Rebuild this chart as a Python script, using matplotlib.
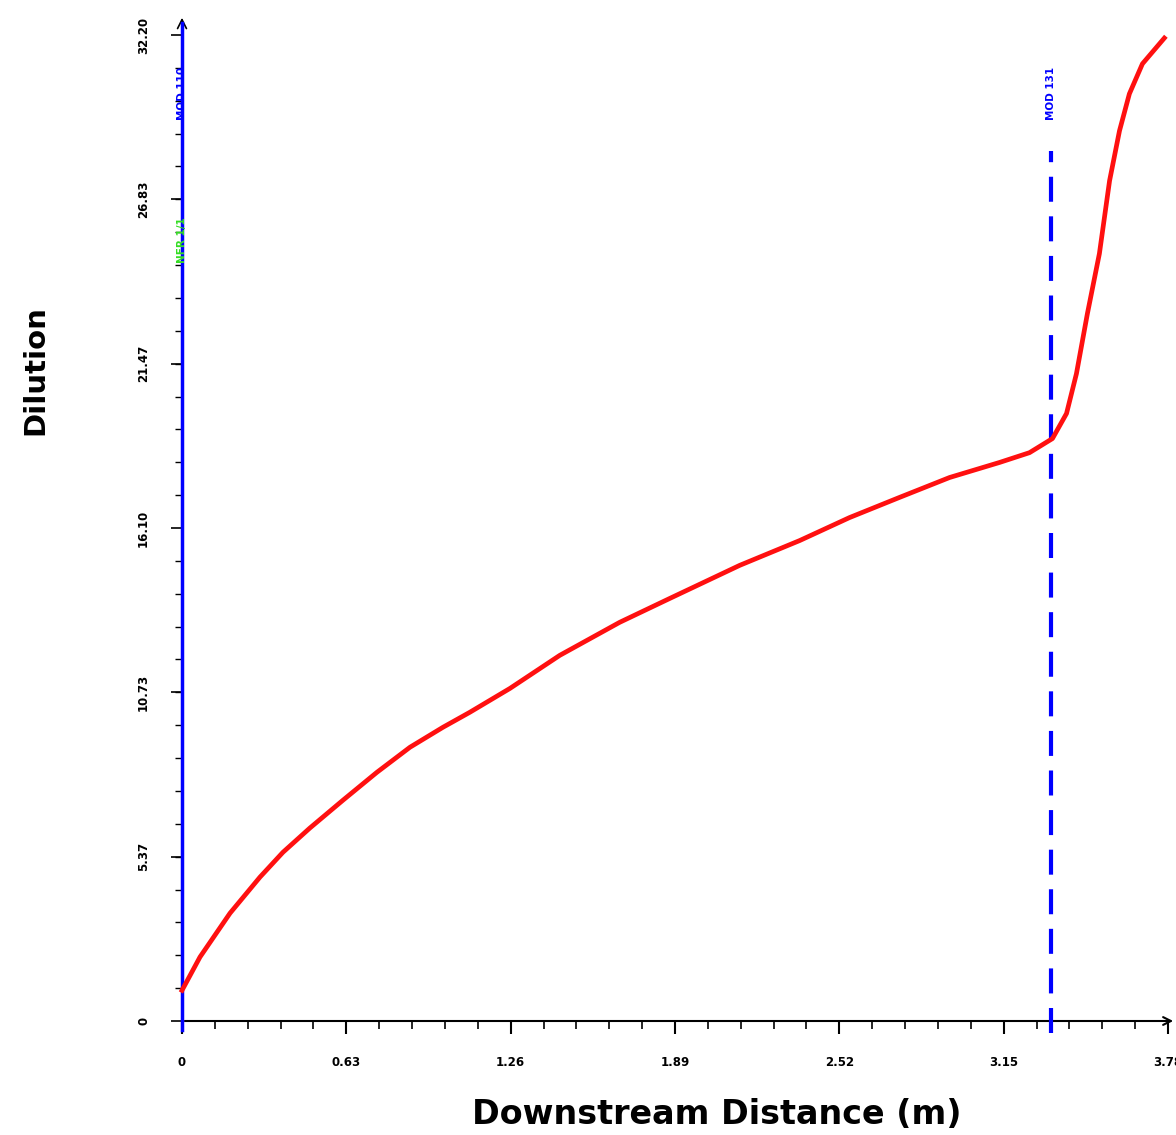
"""Dilution vs downstream distance profile with MOD markers."""
import numpy as np
import matplotlib
matplotlib.use("Agg")
import matplotlib.pyplot as plt
from matplotlib.ticker import MultipleLocator, FixedLocator

# Dilution curve
distance = [0.0, 0.069, 0.184, 0.299, 0.387, 0.490, 0.617, 0.747, 0.874, 1.000,
            1.103, 1.257, 1.448, 1.678, 1.870, 2.138, 2.368, 2.559, 2.751, 2.943,
            3.134, 3.249, 3.337, 3.391, 3.429, 3.471, 3.517, 3.556, 3.594, 3.632,
            3.682, 3.766]
dilution = [1.0, 2.09, 3.52, 4.70, 5.51, 6.30, 7.21, 8.12, 8.94, 9.59,
            10.08, 10.86, 11.94, 13.02, 13.80, 14.88, 15.69, 16.44, 17.10, 17.75,
            18.24, 18.56, 19.02, 19.84, 21.14, 23.10, 25.06, 27.44, 29.07, 30.28,
            31.26, 32.10]

x_ticks = [0, 0.63, 1.26, 1.89, 2.52, 3.15, 3.78]
x_tick_labels = ["0", "0.63", "1.26", "1.89", "2.52", "3.15", "3.78"]
y_ticks = [0, 5.37, 10.73, 16.10, 21.47, 26.83, 32.20]
y_tick_labels = ["0", "5.37", "10.73", "16.10", "21.47", "26.83", "32.20"]

mod_start = 0.0
mod_end = 3.333
mod_end_label = "MOD 131"
mod_start_label = "MOD 110"
nfr_label = "NFR 1/1"

W, H = 1176, 1135
fig = plt.figure(figsize=(W / 100, H / 100), dpi=100)
left, right, bottom, top = 182, 1168, 1021, 35
ax = fig.add_axes([left / W, (H - bottom) / H, (right - left) / W, (bottom - top) / H])
ax.set_xlim(0, 3.78)
ax.set_ylim(0, 32.20)

for s in ax.spines.values():
    s.set_visible(False)

# axis lines with arrow heads
ax.annotate("", xy=(1.0 + 8 / 986, 0), xytext=(0, 0), xycoords="axes fraction",
            arrowprops=dict(arrowstyle="->", color="black", lw=1.5, mutation_scale=14),
            annotation_clip=False)
ax.annotate("", xy=(0, 1.0 + 20 / 986), xytext=(0, 0), xycoords="axes fraction",
            arrowprops=dict(arrowstyle="->", color="black", lw=1.2, mutation_scale=16),
            annotation_clip=False)

# MOD markers
ax.plot([mod_start, mod_start], [-0.3, 32.6], color="#0000ff", lw=2.5, clip_on=False, zorder=3)
ax.plot([mod_end, mod_end], [-0.4, 28.4], color="#0000ff", lw=3,
        dashes=(6, 3.5), clip_on=False, zorder=3)
ax.text(mod_end, 30.3, mod_end_label, rotation=90, color="#0000ff", fontsize=7.5,
        fontweight="bold", ha="center", va="center")
ax.text(mod_start, 30.3, mod_start_label, rotation=90, color="#0000ff", fontsize=7.5,
        fontweight="bold", ha="center", va="center", zorder=4)
ax.text(mod_start, 25.5, nfr_label, rotation=90, color="#33dd22", fontsize=7.5,
        fontweight="bold", ha="center", va="center", zorder=4)

ax.plot(distance, dilution, color="#ff1010", lw=3.4, zorder=5, clip_on=False)

ax.xaxis.set_major_locator(FixedLocator(x_ticks))
ax.xaxis.set_minor_locator(MultipleLocator(0.126))
ax.yaxis.set_major_locator(FixedLocator(y_ticks))
ax.yaxis.set_minor_locator(FixedLocator(list(np.arange(0, 32.3, 32.20 / 30))))
ax.set_xticklabels(x_tick_labels, fontsize=8.5, fontweight="heavy")
ax.set_yticklabels(y_tick_labels, fontsize=8.5, fontweight="heavy", rotation=90, va="center")
ax.tick_params(axis="x", which="major", direction="out", length=9, width=1.5, pad=16)
ax.tick_params(axis="x", which="minor", direction="out", length=6, width=1.2)
ax.tick_params(axis="y", which="major", direction="out", length=8, width=1.2, pad=15)
ax.tick_params(axis="y", which="minor", direction="out", length=5, width=1.0)

fig.text(35 / W, 1 - 370 / H, "Dilution", rotation=90, fontsize=21, fontweight="heavy",
         ha="center", va="center")
fig.text(717 / W, 1 - 1115 / H, "Downstream Distance (m)", fontsize=24, fontweight="heavy",
         ha="center", va="center")

fig.savefig("out.png", dpi=100)
